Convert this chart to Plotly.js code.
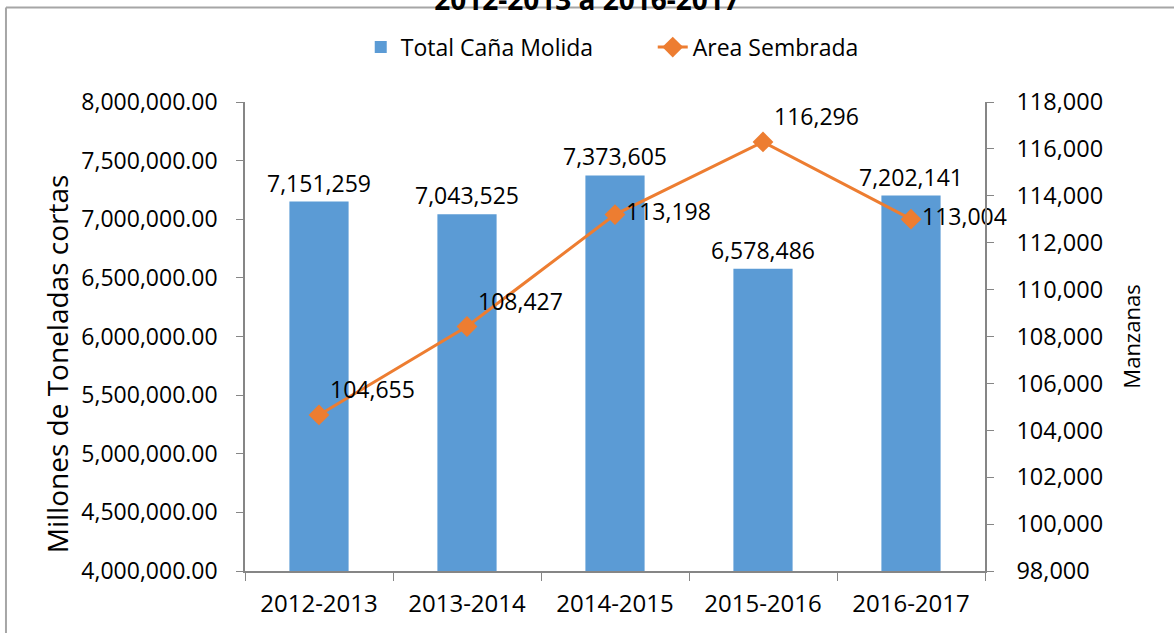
<!DOCTYPE html>
<html>
<head>
<meta charset="utf-8">
<script src="https://cdn.plot.ly/plotly-3.0.1.min.js"></script>
<style>
  html, body { margin: 0; padding: 0; background: #fff; }
  #chart { width: 1174px; height: 633px; }
</style>
</head>
<body>
<div id="chart"></div>
<script>
// zafras on the x axis
const zafras = ['2012-2013', '2013-2014', '2014-2015', '2015-2016', '2016-2017'];
// total cane milled (short tons), left axis
const canaMolida = [7151259, 7043525, 7373605, 6578486, 7202141];
// sown area (manzanas), right axis
const areaSembrada = [104655, 108427, 113198, 116296, 113004];
// where each area label sits relative to its point
const areaLabelPos = ['top right', 'top right', 'middle right', 'top right', 'middle right'];

const FONT = 'Open Sans, sans-serif';
const AXIS_GREY = '#868686';

const bars = {
    type: 'bar',
    name: 'Total Caña Molida',
    x: zafras,
    y: canaMolida,
    width: 0.4,
    marker: { color: '#5B9BD5', line: { width: 0 } },
    text: canaMolida.map(v => v.toLocaleString('en-US')),
    textposition: 'outside',
    constraintext: 'none',
    textfont: { family: FONT, size: 23, color: '#000' },
    cliponaxis: false,
    hoverinfo: 'x+y'
};

const line = {
    type: 'scatter',
    mode: 'lines+markers+text',
    name: 'Area Sembrada',
    x: zafras,
    y: areaSembrada,
    yaxis: 'y2',
    line: { color: '#ED7D31', width: 3 },
    marker: { symbol: 'diamond', size: 16, color: '#ED7D31' },
    text: areaSembrada.map(v => v.toLocaleString('en-US')),
    textposition: areaLabelPos,
    textfont: { family: FONT, size: 23, color: '#000' },
    cliponaxis: false
};

const layout = {
    width: 1174,
    height: 633,
    margin: { l: 245, r: 189, t: 102, b: 62 },
    paper_bgcolor: '#fff',
    plot_bgcolor: '#fff',
    font: { family: FONT, size: 22, color: '#000' },
    // title sits above the chart frame, only its lower edge shows (as in the source)
    title: {
        text: '<b>2012-2013 a 2016-2017</b>',
        font: { family: FONT, size: 28, color: '#000' },
        xref: 'container', x: 0.5, xanchor: 'center',
        yref: 'container', y: 1, yanchor: 'middle'
    },
    showlegend: true,
    legend: {
        orientation: 'h',
        x: 0.551, xanchor: 'center',
        y: 1.117, yanchor: 'middle',
        entrywidth: 247,
        entrywidthmode: 'pixels',
        font: { family: FONT, size: 23, color: '#000' },
        bgcolor: 'rgba(0,0,0,0)'
    },
    xaxis: {
        type: 'category',
        showgrid: false,
        zeroline: false,
        showline: true,
        linecolor: AXIS_GREY,
        linewidth: 1.5,
        ticks: 'outside',
        tickson: 'boundaries',
        ticklen: 8,
        tickcolor: AXIS_GREY,
        ticklabelstandoff: 10,
        tickfont: { family: FONT, size: 24, color: '#000' }
    },
    yaxis: {
        range: [4000000, 8000000],
        dtick: 500000,
        tickformat: ',.2f',
        showgrid: false,
        zeroline: false,
        showline: true,
        linecolor: AXIS_GREY,
        linewidth: 1.5,
        ticks: 'outside',
        ticklen: 7,
        tickcolor: AXIS_GREY,
        ticklabelstandoff: 14,
        tickfont: { family: FONT, size: 23, color: '#000' }
    },
    yaxis2: {
        overlaying: 'y',
        side: 'right',
        range: [98000, 118000],
        dtick: 2000,
        tickformat: ',d',
        showgrid: false,
        zeroline: false,
        showline: true,
        linecolor: AXIS_GREY,
        linewidth: 1.5,
        ticks: 'outside',
        ticklen: 7,
        tickcolor: AXIS_GREY,
        ticklabelstandoff: 18,
        tickfont: { family: FONT, size: 23.5, color: '#000' },
        title: { text: 'Manzanas', standoff: 22, font: { family: FONT, size: 22, color: '#000' } }
    },
    annotations: [
        // left axis title, set a little below the plot centre like the source
        { text: 'Millones de Toneladas cortas', textangle: -90, showarrow: false,
          xref: 'paper', yref: 'paper', x: -0.254, y: 0.441,
          xanchor: 'center', yanchor: 'middle',
          font: { family: FONT, size: 28, color: '#000' } }
    ],
    shapes: [
        // outer frame of the chart (only top and left edges are inside the picture)
        { type: 'line', xref: 'paper', yref: 'paper', x0: -0.323, x1: 1.3, y0: 1.2015, y1: 1.2015,
          line: { color: '#A6A6A6', width: 2 } },
        { type: 'line', xref: 'paper', yref: 'paper', x0: -0.323, x1: -0.323, y0: -0.2, y1: 1.2015,
          line: { color: '#A6A6A6', width: 2 } }
    ]
};

Plotly.newPlot('chart', [bars, line], layout, { displayModeBar: false, responsive: false });
</script>
</body>
</html>
